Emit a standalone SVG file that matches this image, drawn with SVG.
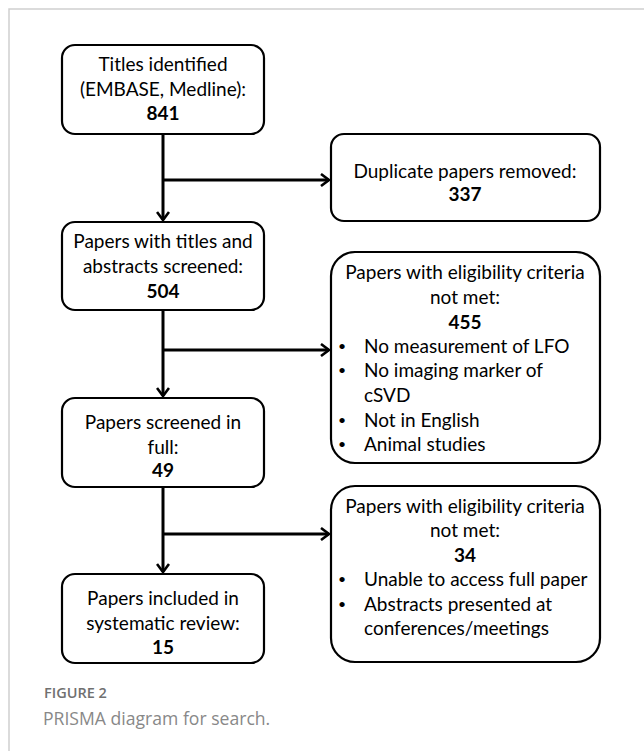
<svg xmlns="http://www.w3.org/2000/svg" width="644" height="751" viewBox="0 0 644 751">
<defs>
<marker id="ah" markerWidth="14" markerHeight="14" refX="11" refY="7" orient="auto" markerUnits="userSpaceOnUse">
<path d="M3,1 L11,7 L3,13" fill="none" stroke="#000" stroke-width="2.6" stroke-linejoin="miter"/>
</marker>
<style>
.box{fill:#fff;stroke:#000;stroke-width:2.2}
.t{font-family:Lato,"Liberation Sans",sans-serif;font-size:19px;fill:#000}
.bu{font-family:Lato,"Liberation Sans",sans-serif;font-size:14px;fill:#000}
.c{text-anchor:middle}
.b{font-weight:bold}
.ln{stroke:#000;stroke-width:3;fill:none}
.frame{stroke:#cfcfcf;stroke-width:1.5;fill:none}
.cap1{font-family:"Open Sans","Liberation Sans",sans-serif;font-size:14.5px;font-weight:600;fill:#707070}
.cap2{font-family:"Open Sans","Liberation Sans",sans-serif;font-size:17.6px;fill:#888}
</style>
</defs>
<rect width="644" height="751" fill="#fff"/>
<path class="frame" d="M9,751 V9 H644"/>

<g id="connectors">
<path class="ln" d="M163,134 V220" marker-end="url(#ah)"/>
<path class="ln" d="M163,180 H329" marker-end="url(#ah)"/>
<path class="ln" d="M163,310 V396" marker-end="url(#ah)"/>
<path class="ln" d="M163,350 H329" marker-end="url(#ah)"/>
<path class="ln" d="M163,487 V572" marker-end="url(#ah)"/>
<path class="ln" d="M163,534 H329" marker-end="url(#ah)"/>
</g>

<g id="n1">
<rect class="box" x="62" y="45" width="202" height="89" rx="13"/>
<text class="t c" x="163" y="71">Titles identified</text>
<text class="t c" x="163" y="96">(EMBASE, Medline):</text>
<text class="t c b" x="163" y="120">841</text>
</g>

<g id="n2">
<rect class="box" x="331" y="134" width="269" height="87" rx="13"/>
<text class="t c" x="465" y="178">Duplicate papers removed:</text>
<text class="t c b" x="465" y="201">337</text>
</g>

<g id="n3">
<rect class="box" x="62" y="222" width="202" height="88" rx="13"/>
<text class="t c" x="163" y="248">Papers with titles and</text>
<text class="t c" x="163" y="273">abstracts screened:</text>
<text class="t c b" x="163" y="298">504</text>
</g>

<g id="n4">
<rect class="box" x="331" y="252" width="269" height="211" rx="24"/>
<text class="t c" x="465" y="279">Papers with eligibility criteria</text>
<text class="t c" x="465" y="304">not met:</text>
<text class="t c b" x="465" y="329">455</text>
<text class="bu" x="338" y="351">•</text><text class="t" x="364" y="353">No measurement of LFO</text>
<text class="bu" x="338" y="375">•</text><text class="t" x="364" y="377">No imaging marker of</text>
<text class="t" x="364" y="402">cSVD</text>
<text class="bu" x="338" y="425">•</text><text class="t" x="364" y="427">Not in English</text>
<text class="bu" x="338" y="449">•</text><text class="t" x="364" y="451">Animal studies</text>
</g>

<g id="n5">
<rect class="box" x="62" y="398" width="202" height="89" rx="13"/>
<text class="t c" x="163" y="429">Papers screened in</text>
<text class="t c" x="163" y="454">full:</text>
<text class="t c b" x="163" y="477">49</text>
</g>

<g id="n6">
<rect class="box" x="331" y="486" width="269" height="176" rx="24"/>
<text class="t c" x="465" y="513">Papers with eligibility criteria</text>
<text class="t c" x="465" y="537">not met:</text>
<text class="t c b" x="465" y="562">34</text>
<text class="bu" x="338" y="584">•</text><text class="t" x="364" y="586">Unable to access full paper</text>
<text class="bu" x="338" y="609">•</text><text class="t" x="364" y="611">Abstracts presented at</text>
<text class="t" x="364" y="635">conferences/meetings</text>
</g>

<g id="n7">
<rect class="box" x="62" y="574" width="202" height="89" rx="13"/>
<text class="t c" x="163" y="605">Papers included in</text>
<text class="t c" x="163" y="630">systematic review:</text>
<text class="t c b" x="163" y="654">15</text>
</g>

<text class="cap1" x="44" y="698">FIGURE 2</text>
<text class="cap2" x="43" y="725">PRISMA diagram for search.</text>
</svg>
